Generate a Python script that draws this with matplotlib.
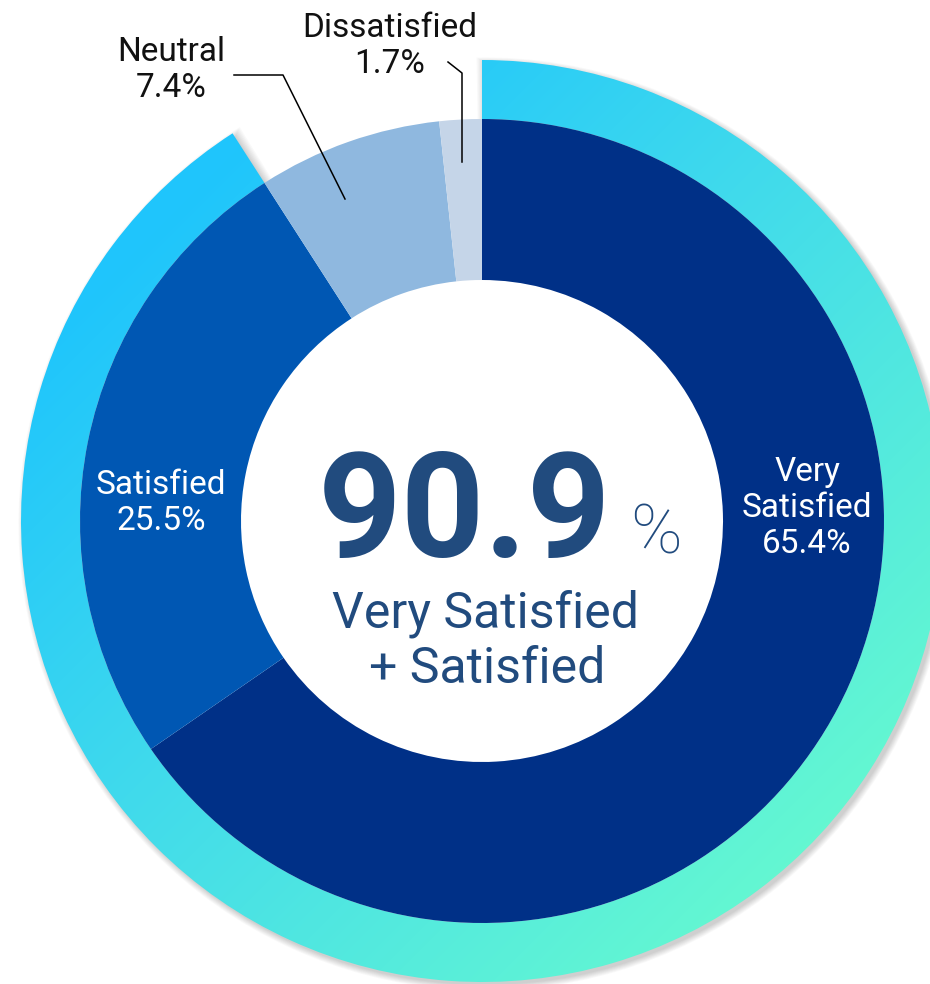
import matplotlib.pyplot as plt
import numpy as np
from matplotlib.patches import Wedge
from matplotlib.colors import LinearSegmentedColormap

# survey result (%)
categories = ['Very\nSatisfied', 'Satisfied', 'Neutral', 'Dissatisfied']
values = [65.4, 25.5, 7.4, 1.7]
top2_total = 90.9
center_lines = ['Very Satisfied', '+ Satisfied']

colors = ['#003087', '#0057B3', '#8FB8DF', '#C5D5E8']
text_col = '#214B7E'

W, H = 930, 984
fig = plt.figure(figsize=(W / 100, H / 100), dpi=100)
ax = fig.add_axes([0, 0, 1, 1])

cx, cy = 482, H - 521      # centre in pixel units (y up)
r_in, r_hole, r_out = 402, 241, 461

# inner donut
wedges, _ = ax.pie(values, colors=colors, startangle=90, counterclock=False,
                   radius=r_in, center=(cx, cy),
                   wedgeprops=dict(width=r_in - r_hole, linewidth=0))

# outer ring = very satisfied + satisfied
theta_end = 90
theta_start = 90 - 360 * top2_total / sum(values)

# soft shadow under the ring
for k in range(8):
    sh = Wedge((cx + 3, cy - 3), r_out + k * 0.8, theta_start - 0.15 * k, theta_end + 0.15 * k,
               width=r_out - r_in + k * 1.6, facecolor='black', alpha=0.025,
               linewidth=0, zorder=1)
    ax.add_patch(sh)

ring = Wedge((cx, cy), r_out, theta_start, theta_end, width=r_out - r_in,
             facecolor='none', linewidth=0, zorder=2)
ax.add_patch(ring)

# diagonal gradient (top-left cyan -> bottom-right mint)
cmap = LinearSegmentedColormap.from_list(
    'ring', [(0.0, '#1FC5FC'), (0.41, '#40DAEC'), (1.0, '#66F9D0')])
X, Y = np.meshgrid(np.arange(0, W), np.arange(0, H))   # Y in image rows
s = np.clip((X + Y - 380) / (1700 - 380), 0, 1)
img = ax.imshow(s, cmap=cmap, extent=(0, W, 0, H), origin='upper',
                zorder=3, interpolation='bilinear', vmin=0, vmax=1)
img.set_clip_path(ring)

for w in wedges:
    w.set_zorder(4)

# centre text
ax.text(611, H - 557, f'{top2_total:.1f}', ha='right', va='baseline',
        fontsize=105, fontweight='bold', color=text_col, family='Roboto', zorder=6)
ax.text(630, H - 553, '%', ha='left', va='baseline',
        fontsize=50, fontweight='light', color=text_col, family='Roboto', zorder=6)
ax.text(485, H - 627, center_lines[0], ha='center', va='baseline',
        fontsize=36, color=text_col, family='Roboto', zorder=6)
ax.text(487, H - 683, center_lines[1], ha='center', va='baseline',
        fontsize=36, color=text_col, family='Roboto', zorder=6)

# slice labels
lab_kw = dict(ha='center', va='center', fontsize=24, linespacing=1.15,
              family='Roboto', zorder=6)
ax.text(807, H - 508, f'{categories[0]}\n{values[0]}%', color='white', **lab_kw)
ax.text(161, H - 503, f'{categories[1]}\n{values[1]}%', color='white', **lab_kw)
ax.text(171, H - 70, f'{categories[2]}\n{values[2]}%', color='#111111', **lab_kw)
ax.text(390, H - 46, f'{categories[3]}\n{values[3]}%', color='#111111', **lab_kw)

# leader lines
ax.plot([234, 283, 345], [H - 75, H - 75, H - 199], color='black', lw=1.1, zorder=7)
ax.plot([448, 462, 462], [H - 62, H - 73, H - 162], color='black', lw=1.1, zorder=7)

ax.set_xlim(0, W)
ax.set_ylim(0, H)
ax.set_aspect('equal')
ax.axis('off')

fig.savefig('out.png', dpi=100, facecolor='white')
